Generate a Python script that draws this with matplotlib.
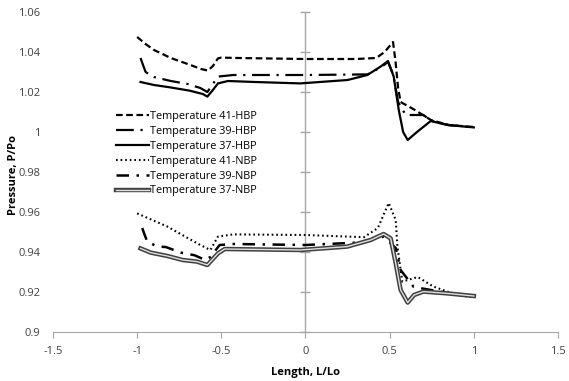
import matplotlib
matplotlib.use("Agg")
import matplotlib.pyplot as plt
import matplotlib.patheffects as pe

plt.rcParams["font.family"] = ["Open Sans", "DejaVu Sans"]

# HBP series
x_41h = [-1.0, -0.95, -0.9, -0.8, -0.7, -0.62, -0.58, -0.55, -0.52, -0.5, -0.4, 0.0, 0.3, 0.42, 0.47, 0.52, 0.535, 0.55, 0.565, 0.65, 0.745, 0.85, 1.0]
y_41h = [1.0475, 1.044, 1.041, 1.037, 1.034, 1.0315, 1.0307, 1.033, 1.0368, 1.0372, 1.037, 1.0365, 1.0365, 1.037, 1.040, 1.045, 1.035, 1.022, 1.015, 1.011, 1.006, 1.0035, 1.0025]

x_39h = [-0.98, -0.95, -0.9, -0.8, -0.7, -0.625, -0.583, -0.55, -0.52, -0.43, 0.0, 0.37, 0.45, 0.49, 0.52, 0.55, 0.595, 0.70, 0.75, 0.85, 1.0]
y_39h = [1.037, 1.030, 1.0275, 1.0255, 1.024, 1.022, 1.020, 1.024, 1.0277, 1.0285, 1.0285, 1.0288, 1.0325, 1.035, 1.029, 1.015, 1.0085, 1.0085, 1.0055, 1.0035, 1.0023]

x_37h = [-0.98, -0.9, -0.81, -0.69, -0.61, -0.583, -0.55, -0.52, -0.46, -0.3, -0.03, 0.25, 0.367, 0.446, 0.49, 0.524, 0.554, 0.58, 0.607, 0.665, 0.744, 0.843, 1.0]
y_37h = [1.025, 1.0235, 1.0224, 1.0207, 1.019, 1.0177, 1.021, 1.0243, 1.0255, 1.025, 1.0243, 1.026, 1.0285, 1.0327, 1.0355, 1.0277, 1.011, 1.000, 0.996, 1.0002, 1.0055, 1.0035, 1.0023]

# NBP series
x_41n = [-1.0, -0.82, -0.7, -0.625, -0.565, -0.52, -0.43, 0.0, 0.347, 0.43, 0.494, 0.536, 0.546, 0.575, 0.667, 0.76, 0.90, 1.0]
y_41n = [0.9593, 0.9527, 0.947, 0.9435, 0.941, 0.9477, 0.9488, 0.9485, 0.9474, 0.952, 0.9645, 0.956, 0.9427, 0.9252, 0.9275, 0.9227, 0.9185, 0.9173]

x_39n = [-0.97, -0.955, -0.94, -0.88, -0.83, -0.74, -0.66, -0.595, -0.565, -0.51, -0.43, 0.0, 0.31, 0.464, 0.536, 0.565, 0.643, 0.80, 0.98]
y_39n = [0.952, 0.9485, 0.9452, 0.9427, 0.9425, 0.9397, 0.9384, 0.936, 0.9375, 0.9435, 0.944, 0.9435, 0.9447, 0.9477, 0.942, 0.931, 0.9225, 0.9202, 0.9177]

x_37n = [-0.98, -0.92, -0.82, -0.73, -0.645, -0.583, -0.52, -0.48, -0.03, 0.248, 0.387, 0.464, 0.506, 0.536, 0.565, 0.607, 0.645, 0.70, 0.843, 1.0]
y_37n = [0.9418, 0.9397, 0.938, 0.936, 0.9352, 0.9335, 0.9393, 0.9415, 0.941, 0.9427, 0.946, 0.949, 0.9468, 0.9343, 0.921, 0.9147, 0.9185, 0.9202, 0.9193, 0.918]

x_ticks = [-1.5, -1, -0.5, 0, 0.5, 1, 1.5]
x_tick_labels = ["-1.5", "-1", "-0.5", "0", "0.5", "1", "1.5"]
y_ticks = [0.9, 0.92, 0.94, 0.96, 0.98, 1.0, 1.02, 1.04, 1.06]
y_tick_labels = ["0.9", "0.92", "0.94", "0.96", "0.98", "1", "1.02", "1.04", "1.06"]

fig = plt.figure(figsize=(5.69, 3.81), dpi=100)
ax = fig.add_axes([0.0931, 0.1286, 0.8876, 0.8399])

grey = "#a6a6a6"
ax.plot(x_41h, y_41h, color="black", lw=1.6, ls=(0, (3, 1.6)), label="Temperature 41-HBP")
ax.plot(x_39h, y_39h, color="black", lw=1.6, ls=(0, (8, 3, 1, 3)), label="Temperature 39-HBP")
ax.plot(x_37h, y_37h, color="black", lw=1.6, ls="-", label="Temperature 37-HBP")
ax.plot(x_41n, y_41n, color="black", lw=1.5, ls=(0, (0.8, 1.4)), label="Temperature 41-NBP")
ax.plot(x_39n, y_39n, color="black", lw=1.8, ls=(0, (5, 3, 1, 3)), label="Temperature 39-NBP")
ax.plot(x_37n, y_37n, color="#e0e0e0", lw=1.0, ls="-", label="Temperature 37-NBP",
        path_effects=[pe.Stroke(linewidth=3.2, foreground="#404040"), pe.Normal()])

ax.set_xlim(-1.5, 1.5)
ax.set_ylim(0.9, 1.06)
ax.set_xticks(x_ticks)
ax.set_xticklabels(x_tick_labels)
ax.set_yticks(y_ticks)
ax.set_yticklabels(y_tick_labels)

for s in ["top", "right", "left"]:
    ax.spines[s].set_visible(False)
ax.spines["bottom"].set_color(grey)
ax.tick_params(axis="x", direction="out", length=4, color=grey, labelsize=8, labelcolor="#404040", pad=6)
ax.tick_params(axis="y", length=0, labelsize=8, labelcolor="#404040", pad=9)

# vertical axis line crossing at x = 0 with its tick marks
ax.axvline(0, color=grey, lw=1, zorder=0)
ax.plot([0] * len(y_ticks), y_ticks, ls="none", marker="_", ms=7, color=grey, mew=1, zorder=0, clip_on=False)

ax.set_xlabel("Length, L/Lo", fontsize=8, fontweight="bold", labelpad=7)
ax.set_ylabel("Pressure, P/Po", fontsize=8, fontweight="bold")
ax.yaxis.set_label_coords(-33.5 / 505, 0.49)

ax.legend(loc="upper left", bbox_to_anchor=(116 / 569, 1 - 111 / 381), bbox_transform=fig.transFigure,
          frameon=False, fontsize=7.8, handlelength=3.0, handletextpad=0.15, labelspacing=0.36,
          borderpad=0, borderaxespad=0)

fig.savefig("out.png", dpi=100)
